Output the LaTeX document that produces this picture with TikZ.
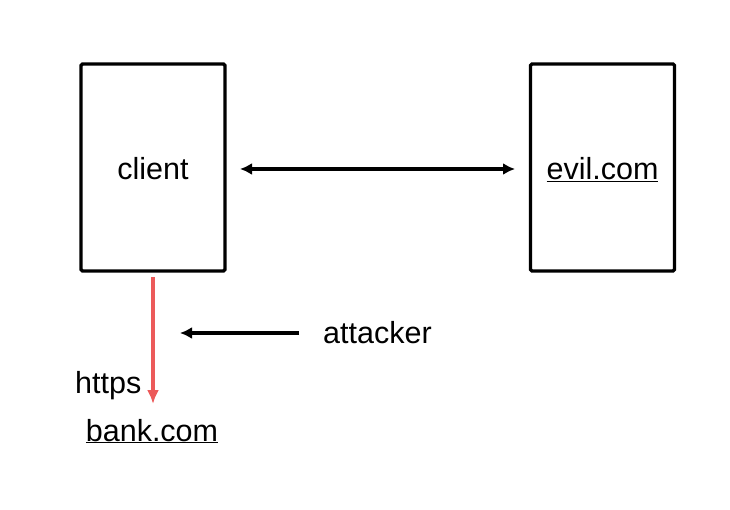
\documentclass[tikz,border=0pt]{standalone}
\usepackage{fontspec}
\setmainfont{Liberation Sans}
\usetikzlibrary{arrows.meta}
\definecolor{redline}{RGB}{236,90,90}
\begin{document}
\begin{tikzpicture}[x=1pt,y=-1pt,
  box/.style={draw=black,line width=3.2pt,rounded corners=1.5pt,minimum width=144pt,minimum height=207pt,inner sep=0pt},
  lbl/.style={font=\fontsize{30.5}{34}\selectfont,inner sep=0pt,anchor=base},
  conn/.style={line width=3.4pt,-{Latex[length=12pt,width=12pt]}},
  bconn/.style={line width=3.4pt,{Latex[length=12pt,width=12pt]}-{Latex[length=12pt,width=12pt]}}]
\useasboundingbox (0,0) rectangle (730,510);
\node[box] (client) at (153,167.5) {};
\node[box] (evil) at (602.5,167.5) {};
\node[lbl] (clienttxt) at (153,179.5) {client};
\node[lbl] (eviltxt) at (602.5,179.5) {\underline{evil.com}};
\coordinate (dl) at (240,169);
\coordinate (dr) at (515,169);
\draw[bconn] (dl) -- (dr);
\node[lbl,anchor=base west] (attacker) at (323,343) {attacker};
\coordinate (as) at (299,333);
\coordinate (ae) at (180,333);
\draw[conn] (as) -- (ae);
\coordinate (rs) at (153,277);
\node[lbl] (bank) at (152,441) {\underline{bank.com}};
\coordinate (re) at (153,404);
\draw[conn,draw=redline,fill=redline,-{Latex[length=14pt,width=12pt]}] (rs) -- (re);
\node[lbl,anchor=base west] (https) at (75,393) {https};
\end{tikzpicture}
\end{document}
